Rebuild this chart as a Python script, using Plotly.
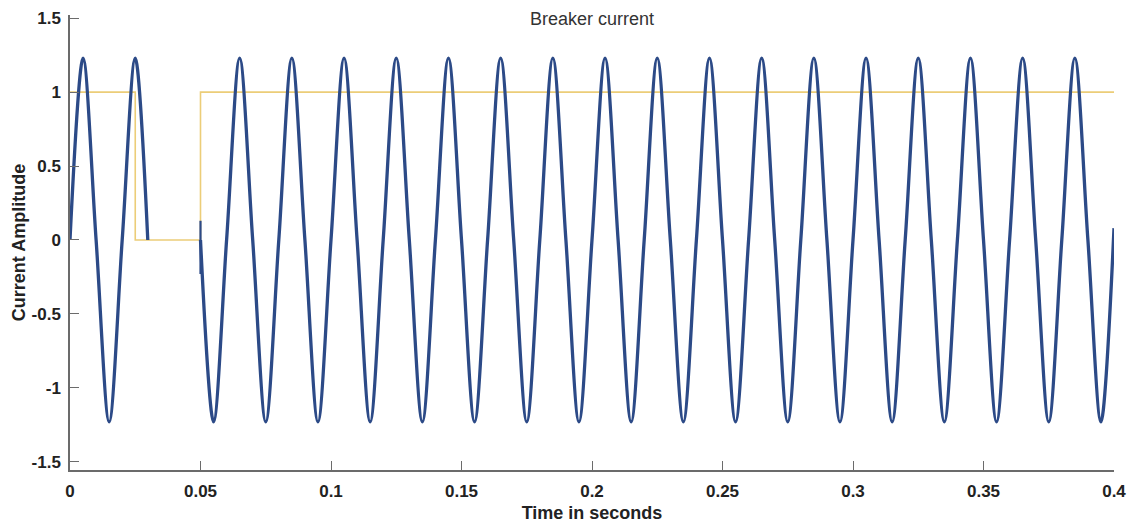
import plotly.graph_objects as go

# ---- data ----
# Breaker current, first segment (before interruption), quarter-cycle samples
t_before = [0.0, 0.005, 0.010, 0.015, 0.020, 0.025, 0.0298]
i_before = [0.0, 1.23, 0.0, -1.23, 0.0, 1.23, 0.0]

# Re-closing transient jump at t = 0.05
t_jump = [0.05, 0.05]
i_jump = [0.13, -0.23]

# Breaker current after re-closing, quarter-cycle samples
t_after = [0.050, 0.055, 0.060, 0.065, 0.070, 0.075, 0.080, 0.085, 0.090, 0.095,
           0.100, 0.105, 0.110, 0.115, 0.120, 0.125, 0.130, 0.135, 0.140, 0.145,
           0.150, 0.155, 0.160, 0.165, 0.170, 0.175, 0.180, 0.185, 0.190, 0.195,
           0.200, 0.205, 0.210, 0.215, 0.220, 0.225, 0.230, 0.235, 0.240, 0.245,
           0.250, 0.255, 0.260, 0.265, 0.270, 0.275, 0.280, 0.285, 0.290, 0.295,
           0.300, 0.305, 0.310, 0.315, 0.320, 0.325, 0.330, 0.335, 0.340, 0.345,
           0.350, 0.355, 0.360, 0.365, 0.370, 0.375, 0.380, 0.385, 0.390, 0.395,
           0.400]
i_after = [0.0, -1.23, 0.0, 1.23, 0.0, -1.23, 0.0, 1.23, 0.0, -1.23,
           0.0, 1.23, 0.0, -1.23, 0.0, 1.23, 0.0, -1.23, 0.0, 1.23,
           0.0, -1.23, 0.0, 1.23, 0.0, -1.23, 0.0, 1.23, 0.0, -1.23,
           0.0, 1.23, 0.0, -1.23, 0.0, 1.23, 0.0, -1.23, 0.0, 1.23,
           0.0, -1.23, 0.0, 1.23, 0.0, -1.23, 0.0, 1.23, 0.0, -1.23,
           0.0, 1.23, 0.0, -1.23, 0.0, 1.23, 0.0, -1.23, 0.0, 1.23,
           0.0, -1.23, 0.0, 1.23, 0.0, -1.23, 0.0, 1.23, 0.0, -1.23,
           0.08]

# Breaker status signal (step)
t_status = [0.0, 0.025, 0.025, 0.05, 0.05, 0.4]
s_status = [1, 1, 0, 0, 1, 1]

x_ticks = [0, 0.05, 0.1, 0.15, 0.2, 0.25, 0.3, 0.35, 0.4]
x_tick_text = ["0", "0.05", "0.1", "0.15", "0.2", "0.25", "0.3", "0.35", "0.4"]
y_ticks = [-1.5, -1, -0.5, 0, 0.5, 1, 1.5]
y_tick_text = ["-1.5", "-1", "-0.5", "0", "0.5", "1", "1.5"]

BLUE = "#2c4a87"
YELLOW = "#eccd78"
AXIS = "#6b6b6b"
FONT = "Liberation Sans, Arial, Helvetica, sans-serif"

fig = go.Figure()
fig.add_trace(go.Scatter(x=t_status, y=s_status, mode="lines",
                         line=dict(color=YELLOW, width=1.6), hoverinfo="skip"))
fig.add_trace(go.Scatter(x=t_before, y=i_before, mode="lines",
                         line=dict(color=BLUE, width=3.3, shape="spline", smoothing=0.95)))
fig.add_trace(go.Scatter(x=t_jump, y=i_jump, mode="lines",
                         line=dict(color=BLUE, width=2.2)))
fig.add_trace(go.Scatter(x=t_after, y=i_after, mode="lines",
                         line=dict(color=BLUE, width=3.3, shape="spline", smoothing=0.95)))

fig.update_layout(
    width=1133, height=531,
    margin=dict(l=70, r=19, t=15, b=61, autoexpand=False),
    paper_bgcolor="white", plot_bgcolor="white",
    showlegend=False,
    font=dict(family=FONT, color="#222222"),
    title=dict(text="Breaker current", x=592 / 1133, xanchor="center",
               y=1 - 19 / 531, yanchor="middle",
               font=dict(family=FONT, size=18, color="#333333")),
    xaxis=dict(range=[0, 0.4], tickvals=x_ticks, ticktext=x_tick_text,
               ticks="inside", ticklen=9, tickcolor=AXIS, tickwidth=1.2,
               showline=True, linecolor=AXIS, linewidth=1.5, mirror=False,
               showgrid=False, zeroline=False, automargin=False,
               tickfont=dict(family=FONT, size=17, color="#222222", weight="bold"),
               ticklabelstandoff=5,
               title=dict(text="<b>Time in seconds</b>", standoff=6,
                          font=dict(family=FONT, size=18, color="#222222"))),
    yaxis=dict(range=[-1.556, 1.522], tickvals=y_ticks, ticktext=y_tick_text,
               ticks="inside", ticklen=9, tickcolor=AXIS, tickwidth=1.2,
               showline=True, linecolor=AXIS, linewidth=1.5, mirror=False,
               showgrid=False, zeroline=False, automargin=False,
               tickfont=dict(family=FONT, size=17, color="#222222", weight="bold"),
               ticklabelstandoff=4,
               title=dict(text="<b>Current Amplitude</b>", standoff=1,
                          font=dict(family=FONT, size=18, color="#222222"))),
)

fig.write_html("out.html")
